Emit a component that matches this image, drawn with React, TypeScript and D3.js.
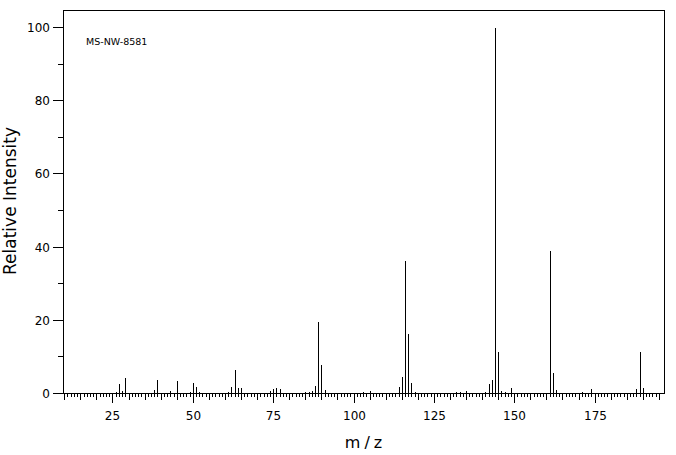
import React from "react";
import * as d3 from "d3";

const mzValues = [
  15, 18, 26, 27, 28, 29, 37, 38, 39, 41, 43, 44, 45, 49, 50, 51, 52, 53, 54,
  57, 58, 59, 61, 62, 63, 64, 65, 66, 72, 73, 74, 75, 76, 77, 78, 79, 85, 86,
  87, 88, 89, 90, 91, 92, 102, 103, 104, 105, 106, 114, 115, 116, 117, 118,
  119, 131, 132, 133, 135, 141, 142, 143, 144, 145, 146, 147, 149, 160, 161,
  162, 163, 164, 170, 171, 172, 174, 188, 189, 190, 191,
];
const intensities = [
  0.3, 0.4, 0.5, 2.7, 0.8, 4.4, 0.4, 1.0, 3.8, 0.3, 0.7, 0.4, 3.5, 0.5, 3.0,
  2.0, 0.6, 0.4, 0.3, 0.3, 0.3, 0.3, 0.5, 2.0, 6.6, 1.6, 1.6, 0.4, 0.3, 0.4,
  0.8, 1.4, 1.7, 1.4, 0.4, 0.3, 0.5, 0.5, 0.8, 2.2, 19.7, 7.9, 1.1, 0.3, 0.3,
  0.5, 0.4, 0.8, 0.3, 1.9, 4.6, 36.3, 16.3, 3.0, 0.6, 0.3, 0.5, 0.5, 0.7, 0.6,
  2.8, 3.8, 100, 11.6, 0.8, 0.5, 1.7, 0.4, 39.1, 5.8, 1.0, 0.3, 0.4, 0.5, 0.4,
  1.3, 1.3, 11.6, 1.7, 0.4,
];
const xTickLabels = [25, 50, 75, 100, 125, 150, 175];
const yTickLabels = [0, 20, 40, 60, 80, 100];
const yMinorTicks = [10, 30, 50, 70, 90];
const sampleLabel = "MS-NW-8581";
const xTitle = "m/z";
const yTitle = "Relative Intensity";

const W = 676;
const H = 455;
const left = 63;
const right = 664;
const top = 10;
const bottom = 393;

export default function App() {
  const x = d3.scaleLinear().domain([9.6, 196.6]).range([left, right]);
  const y = d3.scaleLinear().domain([0, 100]).range([bottom, 27]);
  const px = (v: number) => Math.round(x(v)) + 0.5;
  const py = (v: number) => Math.round(y(v)) + 0.5;
  const xMinor = d3.range(10, 196, 1);
  const font = "'DejaVu Sans', sans-serif";

  return (
    <svg
      width={W}
      height={H}
      style={{ position: "absolute", left: 0, top: 0, background: "#fff" }}
      shapeRendering="crispEdges"
    >
      <rect x={0} y={0} width={W} height={H} fill="#fff" />
      {/* frame */}
      <path
        d={`M${left + 0.5},${bottom + 0.5}V${top + 0.5}H${right + 0.5}V${bottom + 0.5}`}
        fill="none"
        stroke="#000"
        strokeWidth={1}
      />
      <line x1={left - 6} x2={right + 0.5} y1={bottom + 0.5} y2={bottom + 0.5} stroke="#000" />
      {/* x ticks */}
      {xMinor.map((m) => {
        const len = m % 25 === 0 ? 10 : m % 5 === 0 ? 7 : 4;
        return (
          <line key={"xt" + m} x1={px(m)} x2={px(m)} y1={bottom} y2={bottom + len} stroke="#000" />
        );
      })}
      {xTickLabels.map((m) => (
        <text
          key={"xl" + m}
          x={px(m)}
          y={420}
          textAnchor="middle"
          fontFamily={font}
          fontSize={12}
          fill="#000"
        >
          {m}
        </text>
      ))}
      {/* y ticks */}
      {yTickLabels.map((v) => (
        <g key={"yt" + v}>
          <line x1={left - 10} x2={left} y1={py(v)} y2={py(v)} stroke="#000" />
          <text
            x={50}
            y={py(v) + 4.5}
            textAnchor="end"
            fontFamily={font}
            fontSize={12}
            fill="#000"
          >
            {v}
          </text>
        </g>
      ))}
      {yMinorTicks.map((v) => (
        <line key={"ym" + v} x1={left - 5} x2={left} y1={py(v)} y2={py(v)} stroke="#000" />
      ))}
      {/* peaks */}
      {mzValues.map((m, i) => (
        <line
          key={"p" + m}
          x1={px(m)}
          x2={px(m)}
          y1={bottom + 0.5}
          y2={Math.round(y(intensities[i])) + 0.5}
          stroke="#000"
        />
      ))}
      <text x={86} y={45} fontFamily={font} fontSize={9.5} fill="#000">
        {sampleLabel}
      </text>
      <text
        x={(left + right) / 2 + 2}
        y={448}
        textAnchor="middle"
        fontFamily={font}
        fontSize={16}
        letterSpacing={4}
        fill="#000"
      >
        {xTitle}
      </text>
      <text
        transform={`translate(16,201) rotate(-90)`}
        textAnchor="middle"
        fontFamily={font}
        fontSize={17}
        fill="#000"
      >
        {yTitle}
      </text>
    </svg>
  );
}
